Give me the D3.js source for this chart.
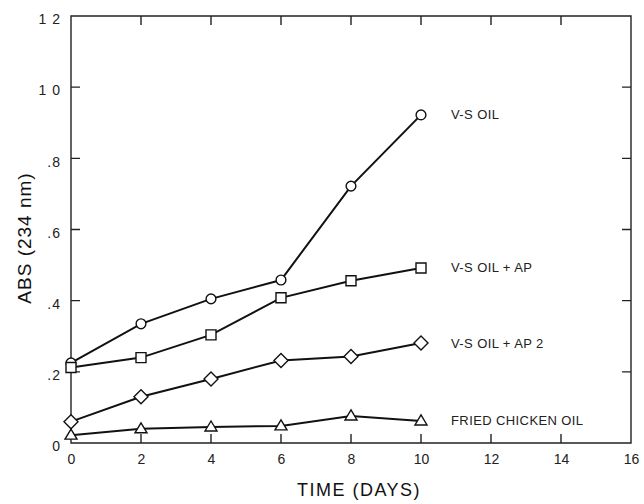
<!DOCTYPE html>
<html>
<head>
<meta charset="utf-8">
<script src="https://cdn.jsdelivr.net/npm/d3@7"></script>
<style>
  html, body { margin: 0; padding: 0; background: #fff; }
  svg { display: block; font-family: "Liberation Sans", Arial, sans-serif; }
</style>
</head>
<body>
<svg id="chart" width="644" height="504"></svg>
<script>
// data
const days = [0, 2, 4, 6, 8, 10];
const vsOil = [0.225, 0.335, 0.405, 0.458, 0.722, 0.922];
const vsOilAp = [0.212, 0.240, 0.304, 0.408, 0.456, 0.492];
const vsOilAp2 = [0.060, 0.130, 0.180, 0.232, 0.243, 0.281];
const friedChickenOil = [0.022, 0.040, 0.045, 0.048, 0.076, 0.062];

const seriesNames = ["V-S OIL", "V-S OIL + AP", "V-S OIL + AP 2", "FRIED CHICKEN OIL"];
const seriesValues = [vsOil, vsOilAp, vsOilAp2, friedChickenOil];
const seriesSymbols = ["circle", "square", "diamond", "triangle"];

const xTicks = [0, 2, 4, 6, 8, 10, 12, 14, 16];
const yTicks = [0, 0.2, 0.4, 0.6, 0.8, 1.0, 1.2];
const yTickLabels = ["0", ".2", ".4", ".6", ".8", "1 0", "1 2"];

const svg = d3.select("#chart");
const margin = { top: 16, right: 13, bottom: 61, left: 71 };
const width = 644, height = 504;

const x = d3.scaleLinear().domain([0, 16]).range([margin.left, width - margin.right]);
const y = d3.scaleLinear().domain([0, 1.2]).range([height - margin.bottom, margin.top]);

const x0 = x(0), x1 = x(16), y0 = y(0), y1 = y(1.2);

// frame
svg.append("path")
    .attr("d", `M${x0},${y1}L${x1},${y1}L${x1},${y0}L${x0},${y0}Z`)
    .attr("fill", "none")
    .attr("stroke", "#222")
    .attr("stroke-width", 1.4);

// tick marks, all pointing inward
const tk = 9;
const innerX = xTicks.slice(1, -1);
const innerY = yTicks.slice(1, -1);
const tickPath = [
    ...innerX.map(d => `M${x(d)},${y0}v${-tk}`),
    ...innerX.map(d => `M${x(d)},${y1}v${tk}`),
    ...innerY.map(d => `M${x0},${y(d)}h${tk}`),
    ...innerY.map(d => `M${x1},${y(d)}h${-tk}`)
].join("");
svg.append("path")
    .attr("d", tickPath)
    .attr("fill", "none")
    .attr("stroke", "#222")
    .attr("stroke-width", 1.4);

// tick labels from the axes
const axBottom = svg.append("g")
    .attr("transform", `translate(0,${y0})`)
    .call(d3.axisBottom(x).tickValues(xTicks).tickSize(0).tickPadding(17).tickFormat(d3.format("d")));
const axLeft = svg.append("g")
    .attr("transform", `translate(${x0},0)`)
    .call(d3.axisLeft(y).tickValues(yTicks).tickSize(0).tickPadding(10)
        .tickFormat((d, i) => yTickLabels[i]));

[axBottom, axLeft].forEach(a => {
    a.select(".domain").remove();
    a.selectAll(".tick line").remove();
});

svg.selectAll(".tick text")
    .attr("fill", "#222")
    .style("font-size", "14px");
axBottom.selectAll(".tick text").attr("dy", "0.3em");
axLeft.selectAll(".tick text").attr("dy", "0.55em").attr("letter-spacing", 1);

// lines
const line = d3.line()
    .x((d, i) => x(days[i]))
    .y(d => y(d));

svg.selectAll(".series")
    .data(seriesValues)
    .join("path")
    .attr("class", "series")
    .attr("fill", "none")
    .attr("stroke", "#111")
    .attr("stroke-width", 2)
    .attr("d", d => line(d));

// markers
const symbolPath = {
    circle: d3.symbol(d3.symbolCircle, 75)(),
    square: d3.symbol(d3.symbolSquare, 100)(),
    diamond: "M0,-7L7,0L0,7L-7,0Z",
    triangle: "M0,-6L6,4L-6,4Z"
};

seriesValues.forEach((vals, s) => {
    svg.append("g")
        .selectAll("path")
        .data(vals)
        .join("path")
        .attr("fill", "#fff")
        .attr("stroke", "#111")
        .attr("stroke-width", 1.4)
        .attr("transform", (d, i) => `translate(${x(days[i])},${y(d)})`)
        .attr("d", symbolPath[seriesSymbols[s]]);
});

// series labels right of the last point
svg.selectAll(".label")
    .data(seriesNames)
    .join("text")
    .attr("class", "label")
    .attr("x", x(10) + 30)
    .attr("y", (d, i) => y(seriesValues[i][seriesValues[i].length - 1]))
    .attr("dy", "0.35em")
    .attr("fill", "#222")
    .attr("letter-spacing", 0.4)
    .style("font-size", "13px")
    .text(d => d);

// axis titles
svg.append("text")
    .attr("x", (x0 + x1) / 2 + 8)
    .attr("y", 496)
    .attr("text-anchor", "middle")
    .attr("fill", "#111")
    .attr("letter-spacing", 1.5)
    .style("font-size", "18px")
    .text("TIME (DAYS)");

svg.append("text")
    .attr("transform", "translate(31,238) rotate(-90)")
    .attr("text-anchor", "middle")
    .attr("fill", "#111")
    .attr("letter-spacing", 1)
    .style("font-size", "19px")
    .text("ABS (234 nm)");
</script>
</body>
</html>
